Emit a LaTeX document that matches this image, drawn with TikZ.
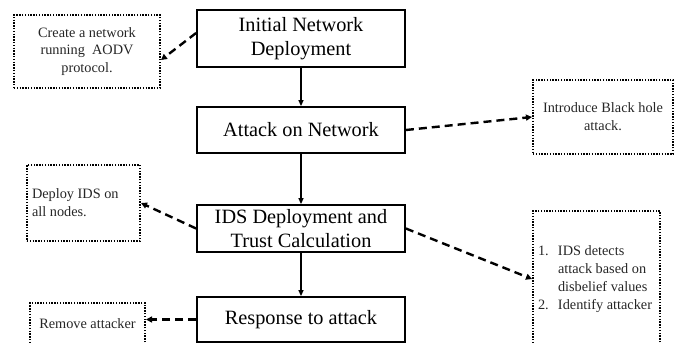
\documentclass[tikz,border=0pt]{standalone}
\usepackage{fontspec}
\setmainfont{Liberation Serif}
\usetikzlibrary{arrows.meta}
\begin{document}
\begin{tikzpicture}[x=1pt,y=-1pt,
  mainbox/.style={draw=black,line width=1.8pt,minimum width=208pt,inner sep=0pt,
    font=\fontsize{20.3}{23.5}\selectfont,align=center},
  notebox/.style={draw=black,line width=2pt,dash pattern=on 1.4pt off 1.4pt,inner sep=0pt,
    font=\fontsize{14.3}{17.8}\selectfont,text=black!85},
  flow/.style={line width=1.4pt,-{Triangle[length=6pt,width=5pt]}},
  note/.style={line width=2.4pt,dash pattern=on 8pt off 5pt,-{Triangle[length=6pt,width=6pt]}}]
\useasboundingbox (0,0) rectangle (678,343);
\clip (0,0) rectangle (678,343);
% main boxes
\node[mainbox,minimum height=57pt] (b1) at (301,38.5) {Initial Network\\Deployment};
\node[mainbox,minimum height=46pt] (b2) at (301,130) {Attack on Network};
\node[mainbox,minimum height=47pt] (b3) at (301,228.5) {IDS Deployment and\\Trust Calculation};
\node[mainbox,minimum height=45pt] (b4) at (301,319.5) {Response to attack};
% note boxes
\node[notebox,minimum width=146pt,minimum height=73pt,align=center] (n1) at (87,51.5)
  {Create a network\\running\ \ AODV\\protocol.};
\node[notebox,minimum width=140pt,minimum height=74pt,align=center] (n2) at (603,117)
  {Introduce Black hole\\attack.};
\node[notebox,minimum width=113pt,minimum height=76pt] (n3) at (83.5,203)
  {\begin{minipage}{103pt}\raggedright Deploy IDS on\\all nodes.\end{minipage}};
\node[notebox,minimum width=127pt,minimum height=136pt] (n4) at (596.5,279)
  {\begin{minipage}{117pt}\raggedright
   \hangindent=20pt\hangafter=1\makebox[20pt][l]{1.}IDS detects attack based on disbelief values\par
   \makebox[20pt][l]{2.}Identify attacker\end{minipage}};
\node[notebox,minimum width=115pt,minimum height=42pt] (n5) at (87.5,324)
  {Remove attacker};
% flow arrows
\draw[flow] (b1) -- (b2);
\draw[flow] (b2) -- (b3);
\draw[flow] (b3) -- (b4);
% dashed arrows
\draw[note] ([yshift=5.5pt]b1.west) -- ([yshift=-8.5pt]n1.east);
\draw[note] (b2.east) -- (n2.west);
\draw[note] (b3.west) -- (n3.east);
\draw[note] (b3.east) -- (n4.west);
\draw[note] (b4.west) -- (b4.west -| n5.east);
\end{tikzpicture}
\end{document}
